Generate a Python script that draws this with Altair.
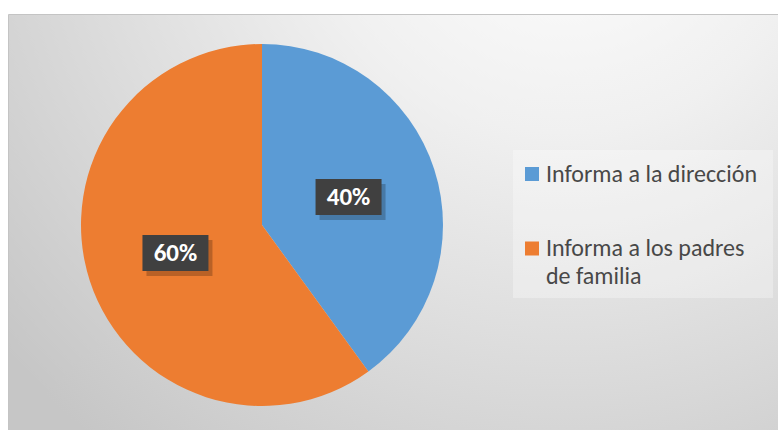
import altair as alt
import pandas as pd

categorias = ["Informa a la dirección", "Informa a los padres de familia"]
textos_leyenda = ["Informa a la dirección", "Informa a los padres|de familia"]
valores = [40, 60]
etiquetas = ["40%", "60%"]
colores = ["#5B9BD5", "#ED7D31"]

df = pd.DataFrame({
    "categoria": categorias,
    "texto": textos_leyenda,
    "valor": valores,
    "etiqueta": etiquetas,
    "orden": list(range(len(categorias))),
})

W, H = 778, 430
CX, CY, R = 262, 225, 181
RL = 91            # radius of label centres
BW, BH = 33, 18    # half sizes of label boxes
FONT = "Carlito, Lato"
LFS = 24           # legend font size

color_scale = alt.Scale(domain=categorias, range=colores)

# background panel with radial gradient
bg = alt.Chart(pd.DataFrame({"k": [0]})).mark_rect(
    fill=alt.RadialGradient(
        gradient="radial",
        stops=[alt.GradientStop(offset=0, color="#ffffff"),
               alt.GradientStop(offset=0.35, color="#f0f0f0"),
               alt.GradientStop(offset=1, color="#c6c6c6")],
        x1=0.72, y1=0.05, r1=0, x2=0.72, y2=0.05, r2=0.95,
    ),
    stroke="#c4c4c4", strokeWidth=1,
).encode(x=alt.value(8.5), x2=alt.value(W + 2), y=alt.value(14.5), y2=alt.value(H + 2))

# legend panel
panel = alt.Chart(pd.DataFrame({"k": [0]})).mark_rect(
    fill="#ffffff", opacity=0.3
).encode(x=alt.value(513), x2=alt.value(773), y=alt.value(150), y2=alt.value(298))

base = alt.Chart(df)

pie = base.mark_arc(radius=R, x=CX, y=CY).encode(
    theta=alt.Theta("valor:Q", stack=True),
    order=alt.Order("orden:Q"),
    color=alt.Color("categoria:N", scale=color_scale, legend=None),
)

lab = base.transform_joinaggregate(total="sum(valor)").transform_window(
    acum="sum(valor)", sort=[alt.SortField("orden")], frame=[None, 0]
).transform_calculate(
    ang="2*PI*(datum.acum - datum.valor/2)/datum.total",
    px=f"{CX} + {RL}*sin(datum.ang)",
    py=f"{CY} - {RL}*cos(datum.ang)",
    bx0=f"datum.px - {BW}", bx1=f"datum.px + {BW}",
    by0=f"datum.py - {BH}", by1=f"datum.py + {BH}",
    sx0=f"datum.px - {BW} + 4", sx1=f"datum.px + {BW} + 4",
    sy0=f"datum.py - {BH} + 5", sy1=f"datum.py + {BH} + 5",
)

shadow = lab.mark_rect(color="#000000", opacity=0.22).encode(
    x=alt.X("sx0:Q", scale=None, axis=None), x2="sx1:Q",
    y=alt.Y("sy0:Q", scale=None, axis=None), y2="sy1:Q",
)
box = lab.mark_rect(color="#404040").encode(
    x=alt.X("bx0:Q", scale=None, axis=None), x2="bx1:Q",
    y=alt.Y("by0:Q", scale=None, axis=None), y2="by1:Q",
)
txt = lab.mark_text(font=FONT, fontSize=25, fontWeight="bold", color="#ffffff",
                    align="center", baseline="middle").encode(
    x=alt.X("px:Q", scale=None, axis=None),
    y=alt.Y("py:Q", scale=None, axis=None),
    text="etiqueta:N",
)

# manual legend
leg = base.transform_calculate(
    ly="174 + datum.orden*74.5",
    sx0="525", sx1="539",
    sy0="datum.ly - 7", sy1="datum.ly + 7",
    tx="546",
    ty=f"datum.ly - {0.47*LFS:.1f}",
    lineas="split(datum.texto, '|')",
)
leg_sym = leg.mark_rect().encode(
    x=alt.X("sx0:Q", scale=None, axis=None), x2="sx1:Q",
    y=alt.Y("sy0:Q", scale=None, axis=None), y2="sy1:Q",
    color=alt.Color("categoria:N", scale=color_scale, legend=None),
)
leg_txt = leg.mark_text(font=FONT, fontSize=LFS, color="#484848", align="left",
                        baseline="top", lineHeight=28).encode(
    x=alt.X("tx:Q", scale=None, axis=None),
    y=alt.Y("ty:Q", scale=None, axis=None),
    text="lineas:N",
)

chart = alt.layer(bg, panel, pie, shadow, box, txt, leg_sym, leg_txt).properties(
    width=W, height=H, padding=0, autosize=alt.AutoSizeParams(type="none"),
    background="#ffffff",
).configure_view(stroke=None)

chart.save("out.html", embed_options={"renderer": "svg", "actions": False})
